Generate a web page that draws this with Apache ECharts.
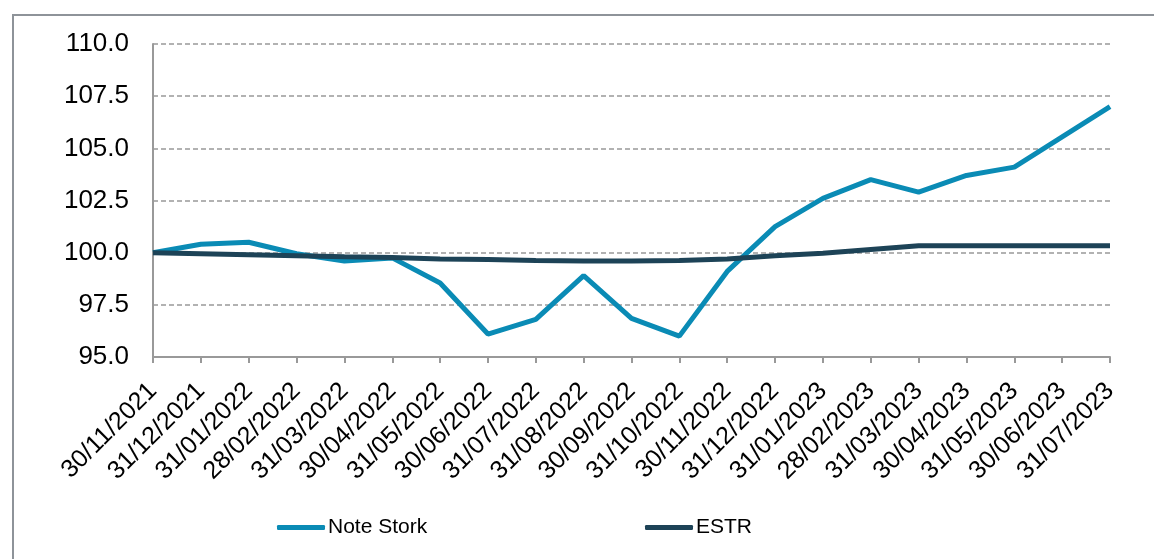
<!DOCTYPE html>
<html>
<head>
<meta charset="utf-8">
<script src="https://cdn.jsdelivr.net/npm/echarts@6/dist/echarts.min.js"></script>
<style>
  html, body { margin: 0; padding: 0; background: #fff; }
  #chart { width: 1154px; height: 559px; }
</style>
</head>
<body>
<div id="chart"></div>
<script>
// dates (month ends)
const dates = [
    '30/11/2021', '31/12/2021', '31/01/2022', '28/02/2022', '31/03/2022', '30/04/2022',
    '31/05/2022', '30/06/2022', '31/07/2022', '31/08/2022', '30/09/2022', '31/10/2022',
    '30/11/2022', '31/12/2022', '31/01/2023', '28/02/2023', '31/03/2023', '30/04/2023',
    '31/05/2023', '30/06/2023', '31/07/2023'
];

// base 100
const noteStork = [
    100.0, 100.4, 100.5, 99.95, 99.6, 99.75, 98.55, 96.1, 96.8, 98.9, 96.85, 96.0,
    99.1, 101.25, 102.6, 103.5, 102.9, 103.7, 104.1, 105.55, 107.0
];
const estr = [
    100.0, 99.95, 99.9, 99.85, 99.8, 99.77, 99.7, 99.67, 99.62, 99.6, 99.6, 99.63,
    99.7, 99.85, 99.97, 100.15, 100.33, 100.33, 100.33, 100.33, 100.33
];

const yTicks = { min: 95, max: 110, step: 2.5 };

const font = 'Liberation Sans, Arial, sans-serif';
const colStork = '#0a8bb5';
const colEstr = '#1d4357';
const frameCol = '#8e9399';

const chart = echarts.init(document.getElementById('chart'));

const legendItem = (name, left) => ({
    data: [name],
    left: left, top: 512,
    icon: 'roundRect',
    itemWidth: 48, itemHeight: 5, itemGap: 0,
    textStyle: { fontFamily: font, fontSize: 21, color: '#000', padding: [0, 0, 0, -2] }
});

chart.setOption({
    animation: false,
    graphic: [
        {// cadre haut / gauche
            type: 'polyline',
            shape: { points: [[13, 559], [13, 15], [1154, 15]] },
            style: { stroke: frameCol, lineWidth: 2, fill: null }
        }
    ],
    grid: { left: 153, right: 44, top: 44, bottom: 202 },
    legend: [legendItem('Note Stork', 272), legendItem('ESTR', 640)],
    xAxis: {
        type: 'category',
        data: dates,
        boundaryGap: false,
        axisLine: { lineStyle: { color: '#999', width: 2 } },
        axisTick: { show: true, length: 6, alignWithLabel: true, lineStyle: { color: '#999', width: 2 } },
        axisLabel: {
            rotate: 45, interval: 0, margin: 30,
            fontFamily: font, fontSize: 25, color: '#000'
        },
        splitLine: { show: false }
    },
    yAxis: {
        type: 'value',
        min: yTicks.min, max: yTicks.max, interval: yTicks.step,
        axisLine: { show: true, lineStyle: { color: '#999', width: 2 } },
        axisTick: { show: false },
        axisLabel: {
            fontFamily: font, fontSize: 26, color: '#000', margin: 24,
            formatter: (v) => v.toFixed(1)
        },
        splitLine: { lineStyle: { color: '#999', type: [5, 3], width: 1.5 } }
    },
    series: [
        {
            name: 'Note Stork',
            type: 'line',
            data: noteStork,
            symbol: 'none',
            lineStyle: { color: colStork, width: 5 },
            itemStyle: { color: colStork },
            z: 2
        },
        {
            name: 'ESTR',
            type: 'line',
            data: estr,
            symbol: 'none',
            lineStyle: { color: colEstr, width: 5 },
            itemStyle: { color: colEstr },
            z: 3
        }
    ]
});
</script>
</body>
</html>
